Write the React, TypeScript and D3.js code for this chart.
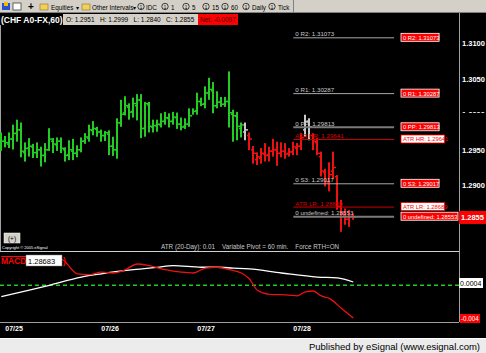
import React from 'react';
import * as d3 from 'd3';

// ---- price bars (60 min) ----
const highs = [1.2974,1.2969,1.2974,1.2985,1.2992,1.2988,1.2960,1.2966,1.2958,1.2960,1.2954,1.2959,1.2980,1.2966,1.2967,1.2967,1.2953,1.2963,1.2965,1.2956,1.2967,1.2973,1.2985,1.2990,1.2982,1.2978,1.2976,1.2977,1.2968,1.2994,1.3020,1.3025,1.3015,1.3023,1.3028,1.3028,1.3017,1.3017,1.2992,1.2992,1.3001,1.3003,1.3001,1.3003,1.3002,1.2995,1.2994,1.3008,1.3008,1.3030,1.3023,1.3039,1.3051,1.3045,1.3032,1.3024,1.3024,1.3060,1.3006,1.3003,1.2988,1.2988,1.2974,1.2955,1.2946,1.2952,1.2959,1.2954,1.2965,1.2961,1.2960,1.2959,1.2952,1.2961,1.2959,1.2973,1.2999,1.2994,1.2973,1.2966,1.2947,1.2923,1.2932,1.2947,1.2914,1.2879,1.2867,1.2865,1.2860];
const lows = [1.2948,1.2953,1.2952,1.2950,1.2961,1.2939,1.2933,1.2940,1.2938,1.2938,1.2926,1.2932,1.2948,1.2945,1.2948,1.2945,1.2933,1.2935,1.2935,1.2939,1.2946,1.2958,1.2961,1.2970,1.2968,1.2961,1.2962,1.2942,1.2941,1.2937,1.2982,1.2998,1.2992,1.2995,1.2991,1.2966,1.2968,1.2974,1.2974,1.2975,1.2981,1.2985,1.2981,1.2985,1.2979,1.2977,1.2979,1.2982,1.2999,1.2999,1.3011,1.3008,1.3020,1.3001,1.3008,1.3010,1.3010,1.2981,1.2961,1.2963,1.2967,1.2963,1.2949,1.2930,1.2928,1.2930,1.2933,1.2933,1.2940,1.2927,1.2939,1.2937,1.2940,1.2942,1.2942,1.2949,1.2968,1.2963,1.2949,1.2942,1.2912,1.2898,1.2891,1.2909,1.2865,1.2834,1.2844,1.2841,1.2851];
const opens = [1.2960,1.2962,1.2958,1.2965,1.2973,1.2978,1.2946,1.2952,1.2954,1.2946,1.2950,1.2942,1.2950,1.2962,1.2957,1.2962,1.2950,1.2943,1.2948,1.2945,1.2950,1.2962,1.2966,1.2977,1.2979,1.2975,1.2970,1.2972,1.2955,1.2950,1.2988,1.3002,1.3010,1.3004,1.3012,1.3020,1.2980,1.3013,1.2982,1.2984,1.2985,1.2990,1.2994,1.2990,1.2995,1.2986,1.2983,1.2986,1.2998,1.3005,1.3018,1.3015,1.3030,1.3033,1.3012,1.3017,1.3014,1.3018,1.3000,1.2997,1.2980,1.2975,1.2970,1.2950,1.2936,1.2938,1.2944,1.2943,1.2948,1.2950,1.2945,1.2948,1.2945,1.2947,1.2952,1.2955,1.2978,1.2990,1.2970,1.2960,1.2940,1.2918,1.2905,1.2920,1.2912,1.2870,1.2858,1.2852,1.2856];
const closes = [1.2962,1.2960,1.2965,1.2973,1.2978,1.2948,1.2952,1.2955,1.2946,1.2950,1.2942,1.2950,1.2965,1.2958,1.2962,1.2952,1.2942,1.2950,1.2945,1.2950,1.2962,1.2968,1.2978,1.2980,1.2975,1.2970,1.2974,1.2955,1.2950,1.2988,1.3000,1.3012,1.3003,1.3015,1.3020,1.2980,1.3015,1.2983,1.2984,1.2986,1.2990,1.2995,1.2990,1.2996,1.2986,1.2982,1.2986,1.2998,1.3004,1.3018,1.3014,1.3030,1.3035,1.3012,1.3017,1.3014,1.3018,1.3002,1.2998,1.2983,1.2985,1.2978,1.2965,1.2945,1.2940,1.2945,1.2942,1.2948,1.2950,1.2945,1.2948,1.2944,1.2947,1.2954,1.2955,1.2967,1.2990,1.2982,1.2962,1.2945,1.2920,1.2905,1.2915,1.2925,1.2870,1.2860,1.2852,1.2856,1.2855];
const barColors = ('g'.repeat(61) + 'w' + 'r'.repeat(14) + 'ww' + 'r'.repeat(11)).split('');

// ---- pivot levels ----
const pivotLabels = ['0 R2: 1.31073', '0 R1: 1.30287', '0 PP: 1.29813', 'ATR HR: 1.29641', '0 S3: 1.29017', 'ATR LR: 1.28689', '0 undefined: 1.28553'];
const pivotValues = [1.31073, 1.30287, 1.29813, 1.29641, 1.29017, 1.28689, 1.28553];
const pivotKinds = ['pivot', 'pivot', 'pp', 'atr', 'pivot', 'atr', 'pp'];

// ---- axes ----
const priceTicks = [1.31, 1.305, 1.3, 1.295, 1.29];
const dateLabels = ['07/25', '07/26', '07/27', '07/28'];
const dateBarIdx = [1, 25, 49, 73];

// ---- MACD ----
const macdIdx = [0, 8, 15, 19, 22, 25, 28, 31, 34, 37, 41, 45, 48, 51, 54, 57, 60, 62, 64, 67, 72, 74, 76, 78, 80, 82, 85, 88];
const macdVals = [0.0035, 0.0035, 0.0032, 0.0014, 0.0013, 0.0016, 0.0015, 0.0019, 0.0026, 0.0024, 0.0019, 0.0016, 0.0015, 0.0021, 0.0022, 0.0019, 0.0015, 0.0008, -0.0006, -0.0011, -0.0012, -0.0013, -0.0008, -0.0007, -0.0013, -0.0016, -0.0028, -0.004];
const sigIdx = [0, 7, 12, 20, 25, 33, 39, 43, 50, 54, 58, 62, 70, 79, 84, 88];
const sigVals = [-0.0014, -0.0006, 0.0, 0.001, 0.0014, 0.0019, 0.0022, 0.0024, 0.0022, 0.0022, 0.0021, 0.002, 0.0015, 0.001, 0.0009, 0.0004];

const W = 486, H = 353;
const AXIS_X = 459;
const FONT = "'Liberation Sans', Arial, sans-serif";

export default function App() {
  const x = d3.scaleLinear().domain([0, 88]).range([1.3, 353.3]);
  const y = d3.scaleLinear().domain([1.29, 1.31]).range([185, 43]);
  const my = d3.scaleLinear().domain([-0.004, 0.0004]).range([318, 282]);
  const colorOf = (c: string) => (c === 'g' ? '#22cc22' : c === 'w' ? '#c8c8c8' : '#ee1111');

  const macdLine = d3.line<number>().x((d, i) => x(macdIdx[i])).y(d => my(d)).curve(d3.curveMonotoneX);
  const sigLine = d3.line<number>().x((d, i) => x(sigIdx[i])).y(d => my(d)).curve(d3.curveMonotoneX);

  const lvlX0 = x(73), lvlX1 = x(98.2);
  const boxX = 401;

  const tbItems = [
    { t: 'IDC', cx: 141, tx: 146 },
    { t: '1', cx: 165, tx: 171 },
    { t: '5', cx: 186, tx: 192 },
    { t: '15', cx: 206, tx: 212 },
    { t: '60', cx: 225, tx: 231 },
    { t: 'Daily', cx: 246, tx: 252 },
    { t: 'Tick', cx: 272, tx: 278 },
  ];

  const lastSig = sigVals[sigVals.length - 1];
  const lastMacd = macdVals[macdVals.length - 1];

  return (
    <div style={{ position: 'fixed', left: 0, top: 0 }}>
      <svg width={W} height={H} style={{ display: 'block' }} fontFamily={FONT}>
        <defs>
          <clipPath id="mainClip"><rect x={0} y={25} width={AXIS_X} height={226} /></clipPath>
          <clipPath id="macdClip"><rect x={0} y={253} width={AXIS_X} height={69} /></clipPath>
          <clipPath id="halfLbl"><rect x={460} y={111.5} width={26} height={1.5} /></clipPath>
        </defs>
        <rect x={0} y={0} width={W} height={H} fill="#000" />
        {/* toolbar */}
        <rect x={0} y={0} width={W} height={13} fill="#d4d0c8" />
        <line x1={0} x2={W} y1={12.5} y2={12.5} stroke="#808080" />
        <rect x={2} y={3} width={8} height={7} fill="#2a4fd0" />
        <rect x={4} y={2} width={4} height={4} fill="#f0c000" />
        <rect x={13} y={3} width={8} height={7} fill="#fff" stroke="#404040" strokeWidth={0.8} />
        <text x={28} y={10} fontSize={10} fontWeight="bold" fill="#000">+</text>
        <rect x={40} y={4} width={8} height={6} fill="#f0d060" stroke="#907020" strokeWidth={0.6} />
        <text x={51} y={9.5} fontSize={6.3} fill="#000">Equities</text>
        <text x={76} y={9.5} fontSize={5.5} fill="#000">▾</text>
        <rect x={82} y={4} width={8} height={6} fill="#f0d060" stroke="#907020" strokeWidth={0.6} />
        <text x={92} y={9.5} fontSize={6.3} fill="#000">Other Intervals</text>
        <text x={133} y={9.5} fontSize={5.5} fill="#000">▾</text>
        {tbItems.map(it => (
          <g key={it.t}>
            <circle cx={it.cx} cy={6.5} r={3.2} fill="none" stroke="#000" strokeWidth={0.7} />
            <text x={it.cx} y={8.5} fontSize={4.5} textAnchor="middle" fill="#000">1</text>
            <text x={it.tx} y={9.5} fontSize={6.3} fill="#000">{it.t}</text>
          </g>
        ))}
        <line x1={293.5} x2={293.5} y1={0} y2={12} stroke="#808080" />

        {/* title bar */}
        <text x={1} y={22.5} fontSize={8.5} fontWeight="bold" fill="#fff">(CHF A0-FX,60) 1</text>
        <rect x={63} y={14} width={135} height={11} fill="#d4d0c8" />
        <text x={66} y={22} fontSize={6.5} fill="#000" xmlSpace="preserve">O: 1.2951   H: 1.2999   L: 1.2840   C: 1.2855</text>
        <rect x={198} y={14} width={40} height={11} fill="#ff0000" />
        <text x={200} y={22} fontSize={6.5} fill="#400000">Net: -0.0097</text>

        {/* axis frame */}
        <line x1={AXIS_X + 0.5} x2={AXIS_X + 0.5} y1={13} y2={322} stroke="#a0a0a0" />
        <line x1={0.5} x2={0.5} y1={25} y2={251} stroke="#a0a0a0" />

        {/* price bars */}
        <g clipPath="url(#mainClip)">
          {highs.map((h, i) => {
            const cx = Math.round(x(i));
            const c = colorOf(barColors[i]);
            return (
              <g key={i}>
                <rect x={cx - 1} y={y(h)} width={2} height={Math.max(1, y(lows[i]) - y(h))} fill={c} />
                <rect x={cx - 2} y={y(opens[i]) - 0.5} width={1} height={1.5} fill={c} />
                <rect x={cx + 1} y={y(closes[i]) - 0.5} width={2} height={1.5} fill={c} />
              </g>
            );
          })}
          {pivotValues.map((v, i) => {
            const k = pivotKinds[i];
            const col = k === 'atr' ? '#cc0000' : k === 'pp' ? '#7a7a7a' : '#a8a8a8';
            const tcol = k === 'atr' ? '#dd0000' : '#c8c8c8';
            return (
              <g key={'p' + i}>
                <line x1={lvlX0} x2={lvlX1} y1={y(v)} y2={y(v)} stroke={col} strokeWidth={k === 'pp' ? 2 : 1} />
                <text x={lvlX0 + 2} y={y(v) - 1.5} fontSize={6.2} fill={tcol}>{pivotLabels[i]}</text>
              </g>
            );
          })}
        </g>
        {pivotValues.map((v, i) => {
          const k = pivotKinds[i];
          const w = pivotLabels[i].length * 2.7 + 3;
          const atr = k === 'atr';
          return (
            <g key={'b' + i}>
              <rect x={boxX} y={y(v) - 4.5} width={w} height={8} fill={atr ? '#ffffff' : '#ff0000'} stroke={atr ? '#ff0000' : '#ffffff'} strokeWidth={0.8} />
              <text x={boxX + 2} y={y(v) + 2} fontSize={5.8} fill={atr ? '#ff0000' : '#ffffff'}>{pivotLabels[i]}</text>
            </g>
          );
        })}

        {/* price axis labels */}
        {priceTicks.map(t => (
          <text key={t} x={462} y={y(t) + 3} fontSize={7.5} fontWeight="bold" fill="#fff"
            clipPath={t === 1.3 ? 'url(#halfLbl)' : undefined}>{t.toFixed(4)}</text>
        ))}
        <rect x={459} y={y(closes[88]) - 6} width={27} height={13} fill="#ff0000" />
        <text x={461} y={y(closes[88]) + 3} fontSize={7.5} fontWeight="bold" fill="#fff">{closes[88].toFixed(4)}</text>

        {/* bottom of price pane */}
        <rect x={4} y={233} width={16} height={10} fill="#d4d0c8" stroke="#fff" strokeWidth={0.5} />
        <text x={12} y={240.5} fontSize={6.5} textAnchor="middle" fill="#000">(+)</text>
        <text x={2} y={249} fontSize={4} fill="#fff">Copyright © 2005 eSignal</text>
        <text x={161} y={249} fontSize={6.3} fill="#c8c8c8" xmlSpace="preserve">ATR (20-Day): 0.01    Variable Pivot = 60 min.    Force RTH=ON</text>
        <line x1={0} x2={AXIS_X} y1={251.5} y2={251.5} stroke="#d0d0d0" strokeWidth={1.2} />

        {/* MACD pane */}
        <line x1={0} x2={AXIS_X} y1={my(0)} y2={my(0)} stroke="#22cc22" strokeWidth={1.3} strokeDasharray="4 3" />
        <g clipPath="url(#macdClip)">
          <path d={sigLine(sigVals) || ''} fill="none" stroke="#ffffff" strokeWidth={1.3} />
          <path d={macdLine(macdVals) || ''} fill="none" stroke="#ee1111" strokeWidth={1.3} />
        </g>
        <text x={1} y={264} fontSize={8.5} fontWeight="bold" fill="#ff0000">MACD(</text>
        <rect x={26} y={255} width={36} height={11} fill="#fff" stroke="#808080" strokeWidth={0.5} />
        <text x={28} y={263.5} fontSize={7.5} fill="#000">1.28683</text>
        <text x={63} y={264} fontSize={8.5} fontWeight="bold" fill="#ff0000">)</text>
        <rect x={459} y={my(lastSig) - 4} width={24} height={10} fill="#fff" />
        <text x={460} y={my(lastSig) + 4} fontSize={7} fill="#000">{lastSig.toFixed(4)}</text>
        <rect x={460} y={my(lastMacd) - 4} width={20} height={9} fill="#ff0000" />
        <text x={461} y={my(lastMacd) + 3} fontSize={6.3} fill="#fff">{lastMacd.toFixed(3)}</text>

        {/* date axis */}
        <line x1={0} x2={AXIS_X} y1={322.5} y2={322.5} stroke="#a0a0a0" />
        {dateLabels.map((d, i) => (
          <text key={d} x={x(dateBarIdx[i])} y={331} fontSize={7} fontWeight="bold" fill="#fff">{d}</text>
        ))}

        {/* footer */}
        <line x1={0} x2={W} y1={338.5} y2={338.5} stroke="#ffffff" />
        <rect x={0} y={339} width={W} height={14} fill="#ececec" />
        <text x={480} y={350} fontSize={9.5} textAnchor="end" fill="#000">Published by eSignal (www.esignal.com)</text>
      </svg>
    </div>
  );
}
